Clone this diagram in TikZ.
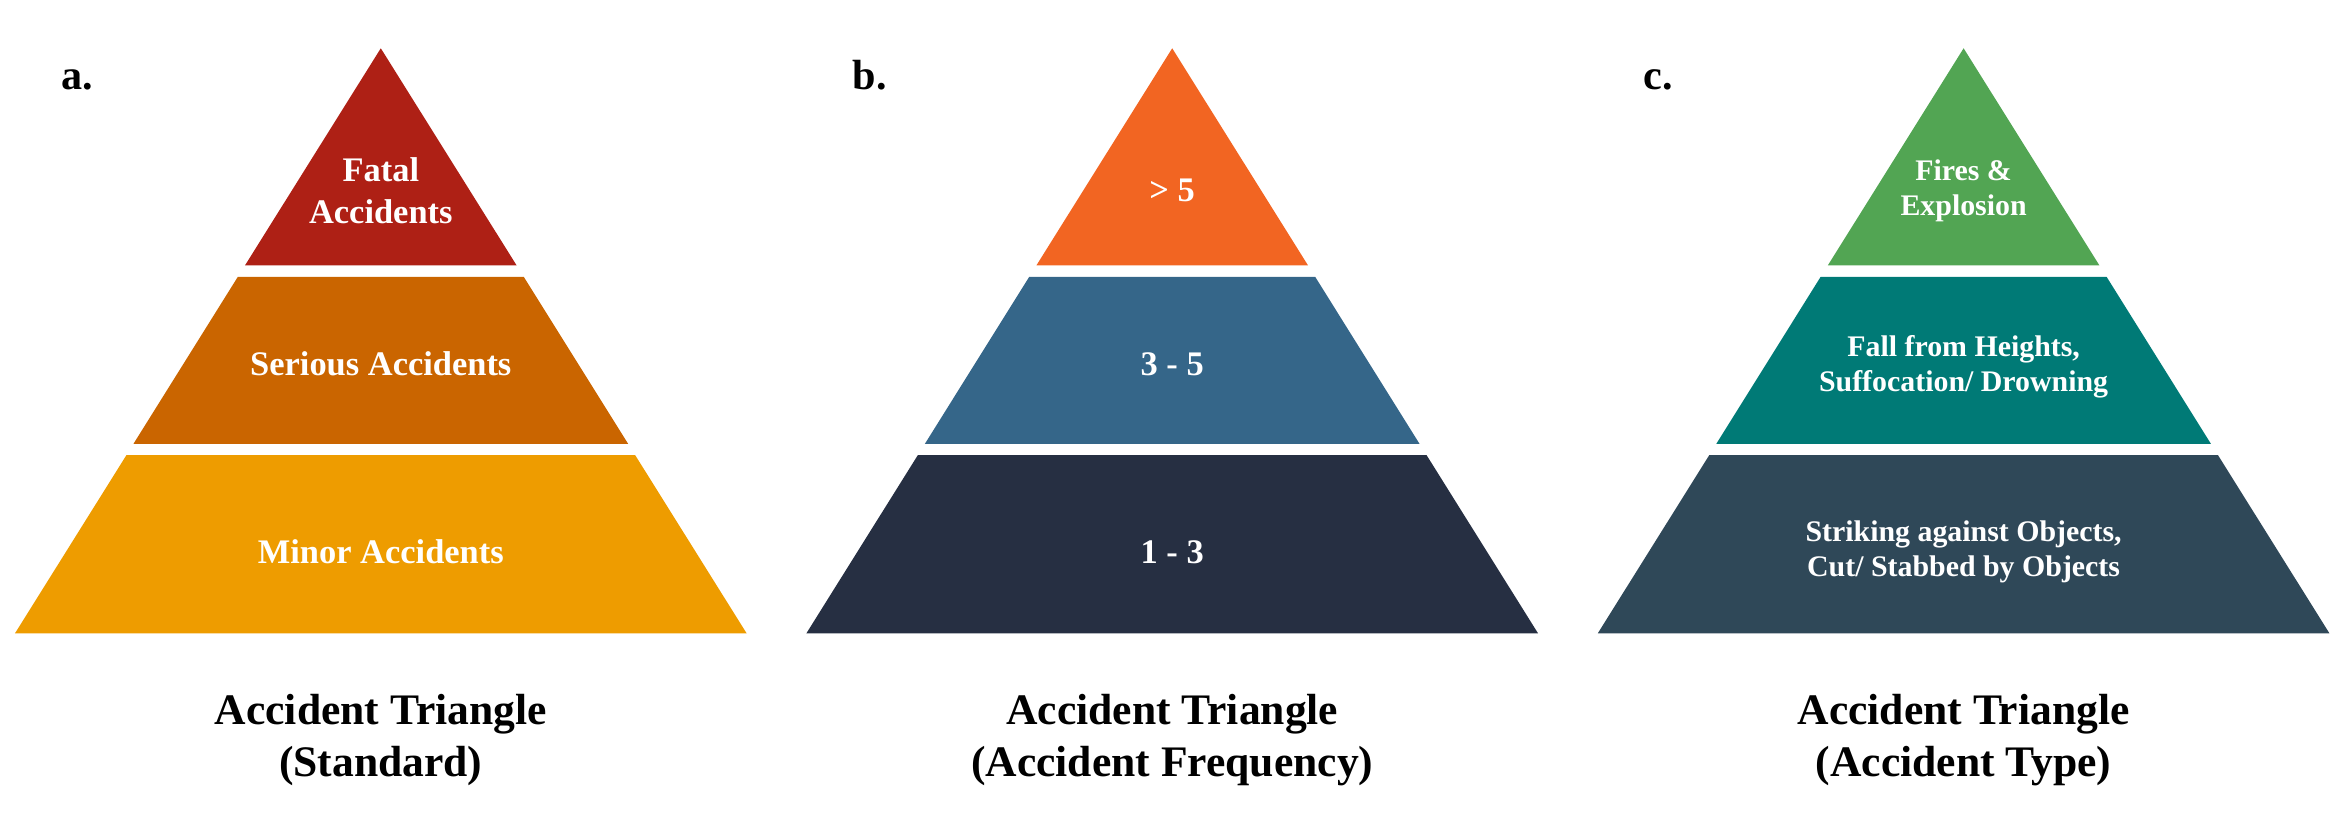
\documentclass[tikz,border=0pt]{standalone}
\usepackage{fontspec}
\setmainfont{Liberation Serif}
\usepackage{tikz}
\definecolor{rossoA}{HTML}{AE2015}
\definecolor{bruno}{HTML}{CA6500}
\definecolor{ocra}{HTML}{EE9C00}
\definecolor{arancio}{HTML}{F26522}
\definecolor{bluA}{HTML}{356689}
\definecolor{notte}{HTML}{262F42}
\definecolor{verde}{HTML}{52A553}
\definecolor{petrolio}{HTML}{007A76}
\definecolor{ardesia}{HTML}{2F4858}
\tikzset{
testo/.style={text=white,align=center,inner sep=1pt,font=\bfseries\fontsize{9.8}{12}\selectfont},
testino/.style={text=white,align=center,inner sep=1pt,font=\bfseries\fontsize{8.5}{10}\selectfont},
titolo/.style={align=center,inner sep=1pt,font=\bfseries\fontsize{12.4}{14.8}\selectfont},
lettera/.style={anchor=base west,inner sep=0pt,font=\bfseries\fontsize{12}{14}\selectfont}}
% #1 = centre, #2 #3 #4 = colours from top to bottom
\newcommand{\piramide}[4]{%
\begin{scope}[xshift=#1cm]
\fill[#2] (0,7.887) -- (1.358,5.716) -- (-1.358,5.716) -- cycle;
\fill[#3] (-1.430,5.601) -- (1.430,5.601) -- (2.473,3.932) -- (-2.473,3.932) -- cycle;
\fill[#4] (-2.544,3.818) -- (2.544,3.818) -- (3.658,2.037) -- (-3.658,2.037) -- cycle;
\end{scope}}

\begin{document}
\begin{tikzpicture}
\useasboundingbox (0,0) rectangle (23.41,8.37);

\piramide{3.808}{rossoA}{bruno}{ocra}
\piramide{11.722}{arancio}{bluA}{notte}
\piramide{19.636}{verde}{petrolio}{ardesia}

\node[lettera] (la) at (0.607,7.47) {a.};
\node[lettera] (lb) at (8.52,7.47) {b.};
\node[lettera] (lc) at (16.43,7.47) {c.};

\node[testo] (a1) at (3.808,6.46) {Fatal\\Accidents};
\node[testo] (a2) at (3.808,4.73) {Serious Accidents};
\node[testo] (a3) at (3.808,2.85) {Minor Accidents};

\node[testo] (b1) at (11.722,6.47) {> 5};
\node[testo] (b2) at (11.722,4.73) {3 - 5};
\node[testo] (b3) at (11.722,2.85) {1 - 3};

\node[testino] (c1) at (19.636,6.465) {Fires \&\\Explosion};
\node[testino] (c2) at (19.636,4.70) {Fall from Heights,\\Suffocation/ Drowning};
\node[testino] (c3) at (19.636,2.85) {Striking against Objects,\\Cut/ Stabbed by Objects};

\node[titolo] (ta) at (3.808,0.97) {Accident Triangle\\(Standard)};
\node[titolo] (tb) at (11.722,0.97) {Accident Triangle\\(Accident Frequency)};
\node[titolo] (tc) at (19.636,0.97) {Accident Triangle\\(Accident Type)};

\end{tikzpicture}
\end{document}
